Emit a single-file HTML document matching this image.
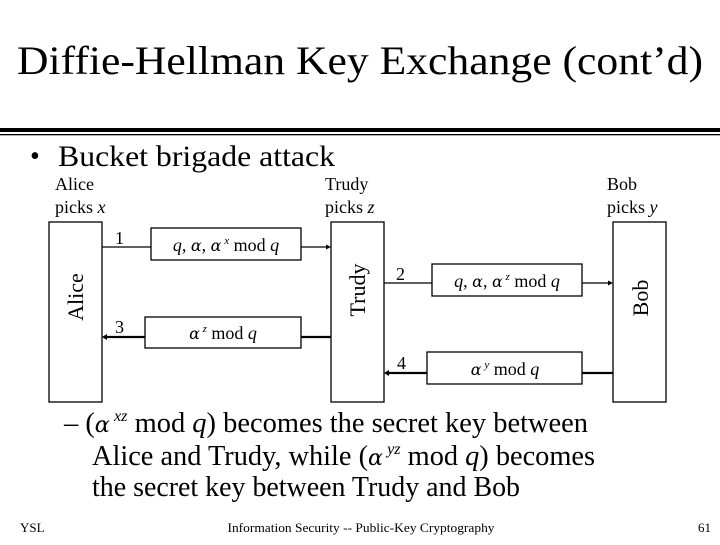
<!DOCTYPE html>
<html><head><meta charset="utf-8"><style>
body{margin:0;width:720px;height:540px;background:#fff;overflow:hidden;font-family:"Liberation Serif",serif;color:#000}
</style></head><body>
<svg width="720" height="540" viewBox="0 0 720 540" xmlns="http://www.w3.org/2000/svg" font-family="Liberation Serif, serif">
<text x="360" y="74" font-size="40" text-anchor="middle" textLength="686" lengthAdjust="spacingAndGlyphs">Diffie-Hellman Key Exchange (cont’d)</text>
<rect x="0" y="128" width="720" height="4" fill="#000"/>
<rect x="0" y="134" width="720" height="1.3" fill="#000"/>
<text x="30" y="165" font-size="28">•</text>
<text x="58" y="166" font-size="30" textLength="277" lengthAdjust="spacingAndGlyphs">Bucket brigade attack</text>
<g font-size="18">
<text x="55" y="190">Alice</text><text x="55" y="213">picks <tspan font-style="italic">x</tspan></text>
<text x="325" y="190">Trudy</text><text x="325" y="213">picks <tspan font-style="italic">z</tspan></text>
<text x="607" y="190">Bob</text><text x="607" y="213">picks <tspan font-style="italic">y</tspan></text>
</g>
<g fill="none" stroke="#000" stroke-width="1.3">
<rect x="49" y="222" width="53" height="180"/>
<rect x="331" y="222" width="53" height="180"/>
<rect x="613" y="222" width="53" height="180"/>
<rect x="151" y="228" width="150" height="32"/>
<rect x="432" y="264" width="150" height="32"/>
<rect x="145" y="317" width="156" height="31"/>
<rect x="427" y="352" width="155" height="32"/>
<line x1="102" y1="247" x2="151" y2="247"/><line x1="301" y1="247" x2="327" y2="247"/>
<line x1="384" y1="283" x2="432" y2="283"/><line x1="582" y1="283" x2="609" y2="283"/>
</g>
<g stroke="#000" stroke-width="2.2">
<line x1="106" y1="337" x2="145" y2="337"/><line x1="301" y1="337" x2="331" y2="337"/>
<line x1="388" y1="373" x2="427" y2="373"/><line x1="582" y1="373" x2="613" y2="373"/>
</g>
<g fill="#000">
<polygon points="331,247 326,244.5 326,249.5"/>
<polygon points="613,283 608,280.5 608,285.5"/>
<polygon points="102,337 107,334 107,340"/>
<polygon points="384,373 389,370 389,376"/>
</g>
<g font-size="18">
<text x="115" y="244">1</text><text x="396" y="280">2</text><text x="115" y="333">3</text><text x="397" y="369">4</text>
<text x="226" y="251" text-anchor="middle"><tspan font-style="italic">q</tspan>, <tspan font-family="DejaVu Serif" font-style="italic" font-size="16">α</tspan>, <tspan font-family="DejaVu Serif" font-style="italic" font-size="16">α</tspan><tspan font-size="11" dy="-7" font-style="italic"> x</tspan><tspan dy="7"> mod </tspan><tspan font-style="italic">q</tspan></text>
<text x="507" y="287" text-anchor="middle"><tspan font-style="italic">q</tspan>, <tspan font-family="DejaVu Serif" font-style="italic" font-size="16">α</tspan>, <tspan font-family="DejaVu Serif" font-style="italic" font-size="16">α</tspan><tspan font-size="11" dy="-7" font-style="italic"> z</tspan><tspan dy="7"> mod </tspan><tspan font-style="italic">q</tspan></text>
<text x="223" y="339" text-anchor="middle"><tspan font-family="DejaVu Serif" font-style="italic" font-size="16">α</tspan><tspan font-size="11" dy="-7" font-style="italic"> z</tspan><tspan dy="7"> mod </tspan><tspan font-style="italic">q</tspan></text>
<text x="505" y="375" text-anchor="middle"><tspan font-family="DejaVu Serif" font-style="italic" font-size="16">α</tspan><tspan font-size="11" dy="-7" font-style="italic"> y</tspan><tspan dy="7"> mod </tspan><tspan font-style="italic">q</tspan></text>
</g>
<g font-size="22" text-anchor="middle">
<text transform="translate(83,297) rotate(-90)">Alice</text>
<text transform="translate(365,290) rotate(-90)">Trudy</text>
<text transform="translate(648,298) rotate(-90)">Bob</text>
</g>
<g font-size="28">
<text x="64" y="432" textLength="524" lengthAdjust="spacingAndGlyphs">– (<tspan font-family="DejaVu Serif" font-style="italic" font-size="22">α</tspan><tspan font-size="16" dy="-11" font-style="italic"> xz</tspan><tspan dy="11"> mod </tspan><tspan font-style="italic">q</tspan>) becomes the secret key between</text>
<text x="92" y="465" textLength="503" lengthAdjust="spacingAndGlyphs">Alice and Trudy, while (<tspan font-family="DejaVu Serif" font-style="italic" font-size="22">α</tspan><tspan font-size="16" dy="-11" font-style="italic"> yz</tspan><tspan dy="11"> mod </tspan><tspan font-style="italic">q</tspan>) becomes</text>
<text x="92" y="496" textLength="428" lengthAdjust="spacingAndGlyphs">the secret key between Trudy and Bob</text>
</g>
<g font-size="13">
<text x="20" y="532">YSL</text>
<text x="361" y="532" text-anchor="middle" textLength="267" lengthAdjust="spacingAndGlyphs">Information Security -- Public-Key Cryptography</text>
<text x="711" y="532" text-anchor="end">61</text>
</g>
</svg>
</body></html>
